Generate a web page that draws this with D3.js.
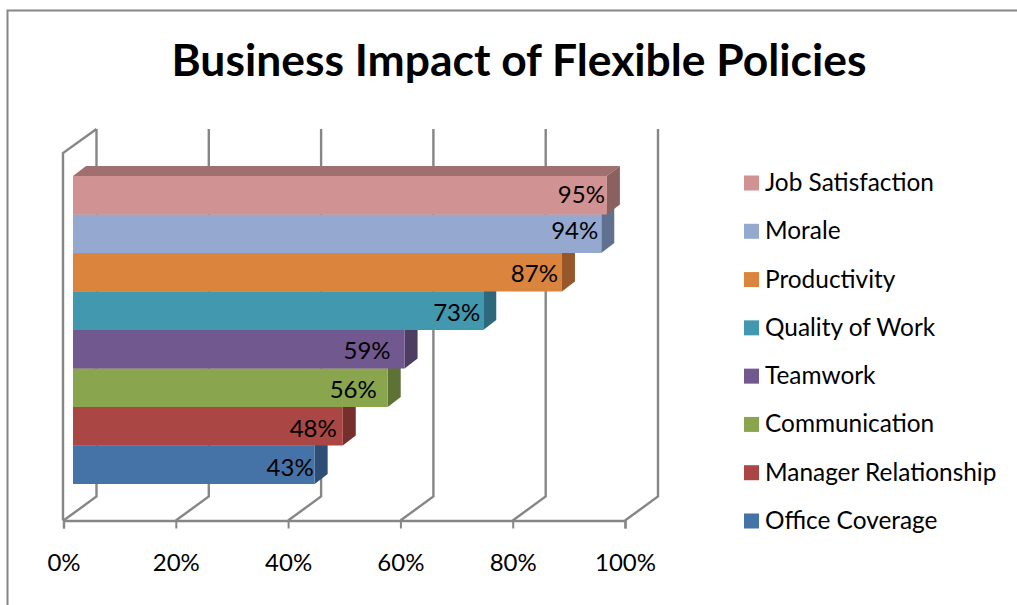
<!DOCTYPE html>
<html>
<head>
<meta charset="utf-8">
<script src="https://cdn.jsdelivr.net/npm/d3@7/dist/d3.min.js"></script>
<style>
html,body{margin:0;padding:0;background:#fff;}
svg{display:block;}
text{font-family:Lato,"Open Sans",sans-serif;fill:#000;}
</style>
</head>
<body>
<svg id="chart" width="1017" height="605"></svg>
<script>
const categories = ["Job Satisfaction","Morale","Productivity","Quality of Work","Teamwork","Communication","Manager Relationship","Office Coverage"];
const values = [95,94,87,73,59,56,48,43];
const frontColors = ["#D09292","#95A9D0","#DB843D","#4198AF","#71588F","#89A54E","#AA4643","#4572A7"];
const sideColors = ["#8A6060","#60708F","#96582A","#2D697A","#4E3D63","#5F7236","#762F2D","#2E4E75"];
const topColor = "#A07070";
const axisTicks = [0,20,40,60,80,100];
const chartTitle = "Business Impact of Flexible Policies";

const svg = d3.select("#chart");
const gray = "#868686";

// Outer chart frame: only the top and left edges fall inside the page
svg.append("path").attr("d","M7.5,605V10.5H1017").attr("fill","none").attr("stroke",gray).attr("stroke-width",2);

svg.append("text").attr("x",519).attr("y",76).attr("text-anchor","middle")
  .attr("font-size",44.4).attr("font-weight",700).text(chartTitle);

// Front floor edge, and the depth offset of the back wall
const xFloor = d3.scaleLinear().domain([0,100]).range([63.5,625]);
const floorY = 520.5, wallTop = 129, depthX = 33, depthY = -24;

const walls = svg.append("g").attr("fill","none").attr("stroke",gray).attr("stroke-width",2.4);
walls.selectAll("path.grid").data(axisTicks).join("path").attr("class","grid")
  .attr("d",d=>{
    const x = xFloor(d);
    return `M${x},${floorY}L${x+depthX},${floorY+depthY}V${wallTop}`;
  });
walls.append("path").attr("d",
  `M${xFloor(0)-0.5},${floorY}V${wallTop-depthY}L${xFloor(0)+depthX},${wallTop}`);

// Bottom axis with outward ticks
const axis = svg.append("g").attr("transform",`translate(0,${floorY})`)
  .call(d3.axisBottom(xFloor).tickValues(axisTicks).tickSize(8).tickPadding(25).tickFormat(d=>d+"%"));
axis.select(".domain").attr("stroke",gray).attr("stroke-width",2.4);
axis.selectAll(".tick line").attr("stroke",gray).attr("stroke-width",2);
axis.selectAll(".tick text").attr("font-size",24).attr("font-family",'Lato,"Open Sans",sans-serif').attr("fill","#000");

// Stacked 3D bars, painted from the bottom row upward so each one overlaps the row below
const xBar = d3.scaleLinear().domain([0,100]).range([73,635]);
const yBar = d3.scaleBand().domain(categories).range([176,484]);
const barDX = 13, barDY = -10;

// Hand placement of the value labels inside their bars, one pair per row
const labelInsets = [2,3,4,3,14,11,6,1];
const labelShifts = [-1,-3,1,1.5,1,1.5,2,2.5];

const rows = categories.map((c,i)=>({c,v:values[i],front:frontColors[i],side:sideColors[i],inset:labelInsets[i],shift:labelShifts[i]})).reverse();

const bar = svg.append("g").selectAll("g").data(rows).join("g");
bar.append("path").attr("fill",topColor).attr("d",d=>{
  const l=xBar(0), r=xBar(d.v), y=yBar(d.c);
  return `M${l},${y}L${l+barDX},${y+barDY}H${r+barDX}L${r},${y}Z`;
});
bar.append("path").attr("fill",d=>d.side).attr("d",d=>{
  const r=xBar(d.v), y=yBar(d.c), h=yBar.bandwidth();
  return `M${r},${y}L${r+barDX},${y+barDY}V${y+barDY+h}L${r},${y+h}Z`;
});
bar.append("rect").attr("fill",d=>d.front)
  .attr("x",xBar(0)).attr("y",d=>yBar(d.c))
  .attr("width",d=>xBar(d.v)-xBar(0)).attr("height",yBar.bandwidth());
bar.append("text").attr("x",d=>xBar(d.v)-d.inset).attr("y",d=>yBar(d.c)+yBar.bandwidth()/2+8.5+d.shift)
  .attr("text-anchor","end").attr("font-size",24).text(d=>d.v+"%");

// Legend
const yLegend = d3.scalePoint().domain(categories).range([183,521]);
const legend = svg.append("g").selectAll("g").data(categories).join("g")
  .attr("transform",d=>`translate(744,${yLegend(d)})`);
legend.append("rect").attr("x",0).attr("y",-7.5).attr("width",15).attr("height",15)
  .attr("fill",(d,i)=>frontColors[i]);
legend.append("text").attr("x",21).attr("y",8).attr("font-size",24.4).text(d=>d);
</script>
</body>
</html>
